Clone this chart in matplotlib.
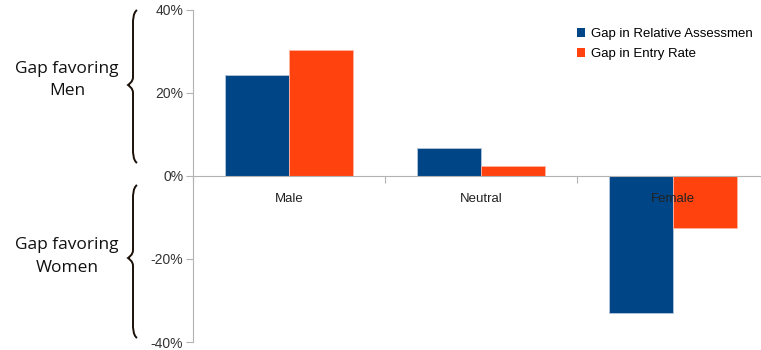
import matplotlib
matplotlib.use("Agg")
import matplotlib.pyplot as plt
from matplotlib.path import Path
from matplotlib.patches import PathPatch, Patch
from matplotlib.ticker import FuncFormatter, FixedLocator
import numpy as np

# data
categories = ["Male", "Neutral", "Female"]
assessment_gap = [24.4, 6.7, -33.1]
entry_rate_gap = [30.3, 2.4, -12.5]
# first legend entry is cut at the right edge in the original
series_names = ["Gap in Relative Assessmen", "Gap in Entry Rate"]
y_ticks = [-40, -20, 0, 20, 40]

blue = "#004586"
orange = "#ff420e"
W, H = 761, 350

plt.rcParams["font.family"] = ["Liberation Sans", "DejaVu Sans"]

fig = plt.figure(figsize=(W / 100, H / 100), dpi=100)
# axes runs a little past the right edge, like the cropped original
ax = fig.add_axes([193 / W, 8 / H, 576 / W, 332 / H])

x = np.arange(len(categories))
bw = 1 / 3
ax.bar(x - bw, assessment_gap, bw, align="edge", color=blue,
       edgecolor="#b4c7dc", linewidth=0.6)
ax.bar(x, entry_rate_gap, bw, align="edge", color=orange,
       edgecolor="#ffb3a0", linewidth=0.6)

ax.set_xlim(-0.5, 2.5)
ax.set_ylim(-40, 40)
ax.set_yticks(y_ticks)
ax.yaxis.set_major_formatter(FuncFormatter(lambda v, p: f"{v:.0f}%"))
ax.tick_params(axis="y", length=5, width=0.8, color="#b3b3b3",
               labelsize=10, labelcolor="#333333", pad=2)

ax.set_xticks(x)
ax.set_xticklabels(categories)
ax.xaxis.set_minor_locator(FixedLocator([-0.5, 0.5, 1.5, 2.5]))
ax.tick_params(axis="x", which="major", length=0, labelsize=9.5,
               labelcolor="#222222", pad=12)
ax.tick_params(axis="x", which="minor", length=5, width=0.8, color="#b3b3b3")

for s in ["top", "right"]:
    ax.spines[s].set_visible(False)
ax.spines["bottom"].set_position(("data", 0))
ax.spines["bottom"].set_color("#b3b3b3")
ax.spines["left"].set_color("#b3b3b3")
ax.set_axisbelow(False)
for lbl in ax.get_xticklabels():
    lbl.set_zorder(5)

handles = [Patch(facecolor=blue, edgecolor="none"),
           Patch(facecolor=orange, edgecolor="none")]
fig.legend(handles, series_names, loc="upper left",
           bbox_to_anchor=(577 / W, 1 - 28 / H), frameon=False,
           fontsize=9.5, handlelength=0.6, handleheight=0.6,
           handletextpad=0.45, labelspacing=0.62, borderpad=0,
           borderaxespad=0)


def px(xp, yp):
    return (xp / W, 1 - yp / H)


def brace(top, bottom, mid, xl=128, xm=133, xe=137):
    verts = [px(xe, top), px(xm, top + 3), px(xm, top + 10), px(xm, top + 14),
             px(xm, mid - 8),
             px(xm, mid - 3), px(xl + 1, mid - 1), px(xl, mid),
             px(xl + 1, mid + 1), px(xm, mid + 3), px(xm, mid + 8),
             px(xm, bottom - 14),
             px(xm, bottom - 10), px(xm, bottom - 3), px(xe, bottom)]
    codes = [Path.MOVETO, Path.CURVE4, Path.CURVE4, Path.CURVE4,
             Path.LINETO,
             Path.CURVE4, Path.CURVE4, Path.CURVE4,
             Path.CURVE4, Path.CURVE4, Path.CURVE4,
             Path.LINETO,
             Path.CURVE4, Path.CURVE4, Path.CURVE4]
    fig.patches.append(PathPatch(Path(verts, codes), transform=fig.transFigure,
                                 facecolor="none", edgecolor="#1a1008",
                                 linewidth=1.4))


brace(10, 163, 85)
brace(185, 338, 258)

fig.text(67 / W, 1 - 80 / H, "Gap favoring\nMen", ha="center", va="center",
         fontsize=12.5, family="Open Sans", color="#111111", linespacing=1.55)
fig.text(67 / W, 1 - 256.5 / H, "Gap favoring\nWomen", ha="center", va="center",
         fontsize=12.5, family="Open Sans", color="#111111", linespacing=1.55)

fig.savefig("out.png", dpi=100)
